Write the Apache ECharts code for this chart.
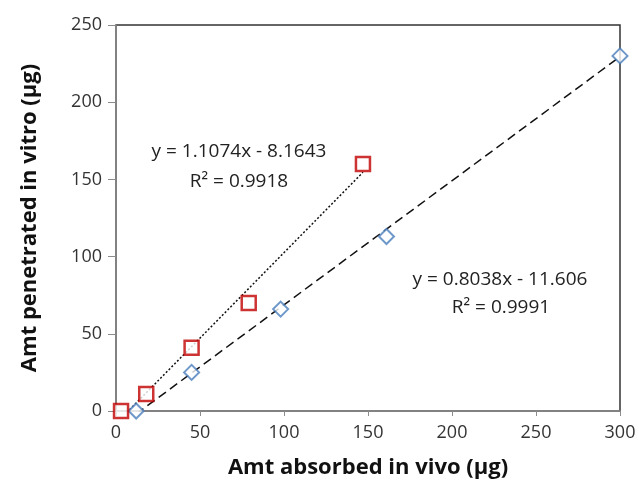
<!DOCTYPE html>
<html><head><meta charset="utf-8">
<script src="https://cdn.jsdelivr.net/npm/echarts@6/dist/echarts.min.js"></script>
<style>html,body{margin:0;padding:0;background:#fff}#c{width:639px;height:486px}</style>
</head><body><div id="c"></div>
<script>
// Data
const redX = [3, 18, 45, 79, 147];
const redY = [0, 11, 41, 70, 160];
const blueX = [12, 45, 98, 161, 300];
const blueY = [0, 25, 66, 113, 230];
// Trendline endpoints (from displayed equations, over data range)
const redTrendX = [3, 147];
const redTrendY = [-4.8, 154.6];
const blueTrendX = [12, 300];
const blueTrendY = [-1.96, 229.5];
const redLabel = ['y = 1.1074x - 8.1643', 'R² = 0.9918'];
const blueLabel = ['y = 0.8038x - 11.606', 'R² = 0.9991'];
const xTitle = 'Amt absorbed in vivo (µg)';
const yTitle = 'Amt penetrated in vitro (µg)';

const zip = (a, b) => a.map((v, i) => [v, b[i]]);
const font = "'Open Sans', 'Liberation Sans', sans-serif";
const chart = echarts.init(document.getElementById('c'), null, {renderer: 'canvas'});
const G = {left: 116, right: 19, top: 25, bottom: 75};
const ann = (t, x, y) => ({type: 'text', x: x, y: y, z: 10,
  style: {text: t, font: "19px " + font, fill: '#222', align: 'center', verticalAlign: 'middle'}});
chart.setOption({
  animation: false,
  backgroundColor: '#fff',
  grid: Object.assign({show: true, borderColor: '#333', borderWidth: 1.5, backgroundColor: 'transparent'}, G),
  xAxis: {
    type: 'value', min: 0, max: 300, interval: 50,
    name: xTitle, nameLocation: 'middle', nameGap: 46,
    nameTextStyle: {fontFamily: font, fontSize: 22, fontWeight: 'bold', color: '#111'},
    axisLine: {show: true, onZero: false, lineStyle: {color: '#8c8c8c', width: 1.5}},
    axisTick: {show: true, inside: false, length: 5, lineStyle: {color: '#8c8c8c'}},
    axisLabel: {fontFamily: font, fontSize: 18, color: '#333', margin: 13},
    splitLine: {show: false}
  },
  yAxis: {
    type: 'value', min: 0, max: 250, interval: 50,
    name: yTitle, nameLocation: 'middle', nameGap: 75, nameRotate: 90,
    nameTextStyle: {fontFamily: font, fontSize: 22, fontWeight: 'bold', color: '#111'},
    axisLine: {show: true, lineStyle: {color: '#8c8c8c', width: 1.5}},
    axisTick: {show: true, inside: false, length: 8, lineStyle: {color: '#8c8c8c'}},
    axisLabel: {fontFamily: font, fontSize: 18, color: '#333', margin: 14},
    splitLine: {show: false}
  },
  series: [
    {type: 'line', data: zip(blueTrendX, blueTrendY), symbol: 'none', clip: true,
     lineStyle: {color: '#111', width: 1.5, type: [9, 5]}, z: 2},
    {type: 'line', data: zip(redTrendX, redTrendY), symbol: 'none', clip: true,
     lineStyle: {color: '#111', width: 1.5, type: [2, 2]}, z: 2},
    {type: 'scatter', data: zip(blueX, blueY), symbol: 'diamond', symbolSize: 15, clip: false,
     itemStyle: {color: '#fff', borderColor: '#4A7EBB', borderWidth: 2}, z: 3},
    {type: 'scatter', data: zip(redX, redY), symbol: 'rect', symbolSize: 14, clip: false,
     itemStyle: {color: '#fff', borderColor: '#C00000', borderWidth: 2.5}, z: 4}
  ],
  graphic: [
    ann(redLabel[0], 239, 152),
    ann(redLabel[1], 239, 182),
    ann(blueLabel[0], 500, 280),
    ann(blueLabel[1], 501, 308)
  ]
});
</script></body></html>
